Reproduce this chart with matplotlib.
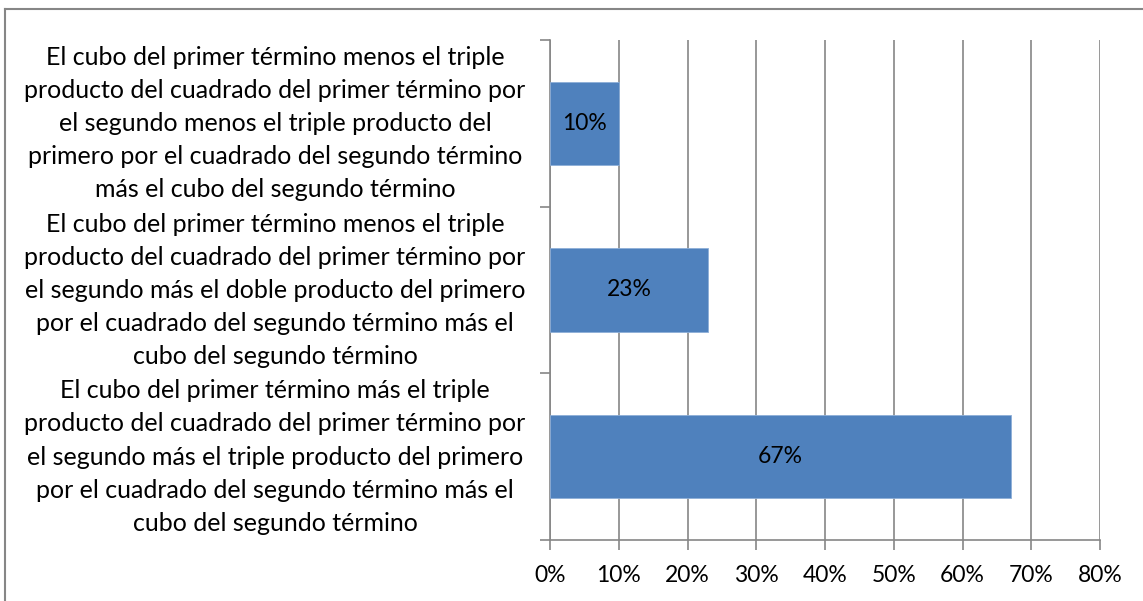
import matplotlib.pyplot as plt
from matplotlib.lines import Line2D

# answer options (bottom to top) and share of responses
categorias = [
    "El cubo del primer término más el triple\n"
    "producto del cuadrado del primer término por\n"
    "el segundo más el triple producto del primero\n"
    "por el cuadrado del segundo término más el\n"
    "cubo del segundo término",
    "El cubo del primer término menos el triple\n"
    "producto del cuadrado del primer término por\n"
    "el segundo más el doble producto del primero\n"
    "por el cuadrado del segundo término más el\n"
    "cubo del segundo término",
    "El cubo del primer término menos el triple\n"
    "producto del cuadrado del primer término por\n"
    "el segundo menos el triple producto del\n"
    "primero por el cuadrado del segundo término\n"
    "más el cubo del segundo término",
]
porcentajes = [67, 23, 10]
xticks = [0, 10, 20, 30, 40, 50, 60, 70, 80]

W, H = 1143, 601
fig = plt.figure(figsize=(W / 100, H / 100), dpi=100)
plt.rcParams['font.family'] = ['Lato', 'DejaVu Sans']

ax = fig.add_axes([550 / W, 1 - 540 / H, 550 / W, 500 / H])

gris = '#868686'
pos = list(range(len(categorias)))
barras = ax.barh(pos, porcentajes, height=0.5, color='#4F81BD',
                 edgecolor='#8EAFD8', linewidth=0.6, zorder=3)
for b, v in zip(barras, porcentajes):
    ax.text(b.get_width() / 2, b.get_y() + b.get_height() / 2, f"{v}%",
            ha='center', va='center', fontsize=16.5, color='black', zorder=4)

ax.set_xlim(0, 80)
ax.set_ylim(-0.5, len(categorias) - 0.5)
ax.set_xticks(xticks)
ax.set_xticklabels([f"{t}%" for t in xticks])
ax.xaxis.grid(True, color=gris, linewidth=1.2, zorder=0)

# category boundaries get the tick marks, labels sit a bit above the middle
ax.set_yticks([p - 0.5 for p in pos] + [pos[-1] + 0.5])
ax.set_yticklabels([])
ax.set_yticks([p + 0.04 for p in pos], minor=True)
ax.set_yticklabels(categorias, minor=True, fontsize=18,
                   ha='center', linespacing=1.53)
ax.tick_params(axis='y', which='minor', length=0, pad=198)
ax.tick_params(axis='y', which='major', length=7, color=gris, width=1.2)
ax.tick_params(axis='x', length=7, color=gris, width=1.2, labelsize=16.5, pad=11)

for s in ['top', 'right']:
    ax.spines[s].set_visible(False)
for s in ['left', 'bottom']:
    ax.spines[s].set_color(gris)
    ax.spines[s].set_linewidth(1.2)

# outer frame of the chart area
fig.add_artist(Line2D([5 / W, 1], [1 - 9 / H, 1 - 9 / H], color=gris, lw=1.5))
fig.add_artist(Line2D([5 / W, 5 / W], [0, 1 - 9 / H], color=gris, lw=1.5))

fig.savefig('out.png', dpi=100)
